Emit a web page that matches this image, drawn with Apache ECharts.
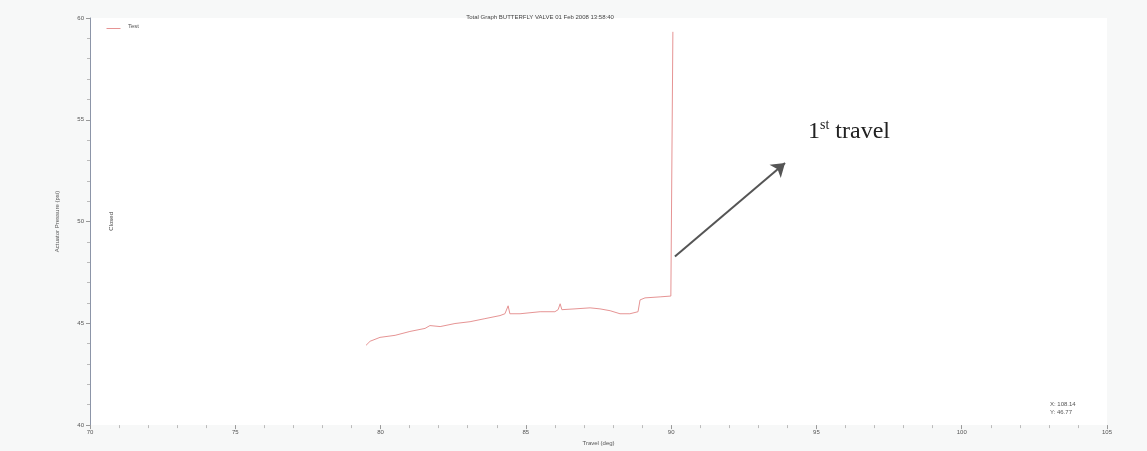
<!DOCTYPE html>
<html>
<head>
<meta charset="utf-8">
<script src="https://cdn.jsdelivr.net/npm/echarts@6/dist/echarts.min.js"></script>
<style>
  html, body { margin: 0; padding: 0; background: #f7f8f8; }
  #chart { width: 1147px; height: 451px; }
</style>
</head>
<body>
<div id="chart"></div>
<script>
// Travel (deg) vs actuator pressure (psi), first travel of the valve
const travelDeg = [79.50, 79.64, 79.98, 80.50, 81.01, 81.53, 81.70, 82.05, 82.56, 83.08,
  83.59, 84.11, 84.28, 84.39, 84.45, 84.80, 85.49, 86.00, 86.11, 86.18,
  86.24, 86.69, 87.21, 87.55, 87.90, 88.24, 88.58, 88.86, 88.93, 89.10,
  89.62, 89.99, 90.06];
const pressurePsi = [43.92, 44.12, 44.31, 44.41, 44.60, 44.75, 44.89, 44.84, 44.99, 45.08,
  45.23, 45.38, 45.47, 45.86, 45.47, 45.47, 45.57, 45.57, 45.67, 45.96,
  45.67, 45.71, 45.76, 45.71, 45.62, 45.47, 45.47, 45.57, 46.15, 46.25,
  46.30, 46.34, 59.32];

const xTicks = { min: 70, max: 105, step: 5 };
const yTicks = { min: 40, max: 60, step: 5 };

// arrow pointing at the first travel, in data units
const arrowFrom = [90.13, 48.28];
const arrowTo = [93.92, 52.88];

const titleText = 'Total Graph BUTTERFLY VALVE 01 Feb 2008 13:58:40';
const cursorText = 'X: 108.14\nY: 46.77';
const seriesName = 'Test';

const lineColor = '#e69494';
const points = travelDeg.map((x, i) => [x, pressurePsi[i]]);

const chart = echarts.init(document.getElementById('chart'));
const tinyFont = { fontFamily: 'Liberation Sans, Arial, sans-serif', fontSize: 6, color: '#555' };
const tinyCss = '6px Liberation Sans, Arial, sans-serif';

chart.setOption({
  backgroundColor: '#f7f8f8',
  animation: false,
  title: {
    text: titleText,
    left: 535, top: 9,
    textAlign: 'center',
    textStyle: { fontFamily: 'Liberation Sans, Arial, sans-serif', fontSize: 6, color: '#444', fontWeight: 'normal' }
  },
  grid: { left: 90, right: 40, top: 18, bottom: 20, show: true, backgroundColor: '#ffffff', borderWidth: 0 },
  xAxis: {
    type: 'value',
    min: xTicks.min, max: xTicks.max, interval: xTicks.step,
    name: 'Travel (deg)', nameLocation: 'middle', nameGap: 12,
    nameTextStyle: tinyFont,
    axisLine: { show: false },
    axisTick: { show: true, length: 4, lineStyle: { color: '#999' } },
    minorTick: { show: true, splitNumber: 5, length: 3, lineStyle: { color: '#bbb' } },
    axisLabel: Object.assign({ margin: 4 }, tinyFont),
    splitLine: { show: false }
  },
  yAxis: {
    type: 'value',
    min: yTicks.min, max: yTicks.max, interval: yTicks.step,
    name: 'Actuator Pressure (psi)', nameLocation: 'middle', nameGap: 30,
    nameTextStyle: tinyFont,
    axisLine: { show: true, lineStyle: { color: '#8c95a8', width: 1 } },
    axisTick: { show: true, length: 4, lineStyle: { color: '#999' } },
    minorTick: { show: true, splitNumber: 5, length: 3, lineStyle: { color: '#bbb' } },
    axisLabel: Object.assign({ margin: 6 }, tinyFont),
    splitLine: { show: false }
  },
  series: [{
    name: seriesName,
    type: 'line',
    data: points,
    symbol: 'none',
    lineStyle: { color: lineColor, width: 1 },
    itemStyle: { color: lineColor },
    markLine: {
      silent: true,
      symbol: ['none', 'arrow'],
      symbolSize: 13,
      label: { show: false },
      lineStyle: { color: '#555', width: 2, type: 'solid' },
      data: [[{ coord: arrowFrom }, { coord: arrowTo }]]
    }
  }],
  graphic: [
    // legend entry
    {
      type: 'line', left: 104, top: 26,
      shape: { x1: 0, y1: 0, x2: 14, y2: 0 },
      style: { stroke: lineColor, lineWidth: 1 }
    },
    {
      type: 'text', left: 128, top: 23,
      style: { text: seriesName, font: tinyCss, fill: '#555' }
    },
    {
      type: 'text', left: 108, top: 212, rotation: Math.PI / 2,
      style: { text: 'Closed', font: tinyCss, fill: '#444' }
    },
    {
      type: 'text', left: 1050, top: 400,
      style: { text: cursorText, font: tinyCss, fill: '#555', lineHeight: 8 }
    },
    {
      type: 'text', left: 808, top: 118,
      style: {
        text: '{n|1}{s|st}{n| travel}',
        rich: {
          n: { fontFamily: 'Liberation Serif, Times New Roman, serif', fontSize: 24, fill: '#222', verticalAlign: 'bottom' },
          s: { fontFamily: 'Liberation Serif, Times New Roman, serif', fontSize: 14, fill: '#222', padding: [0, 0, 12, 0], verticalAlign: 'bottom' }
        }
      }
    }
  ]
});
</script>
</body>
</html>
